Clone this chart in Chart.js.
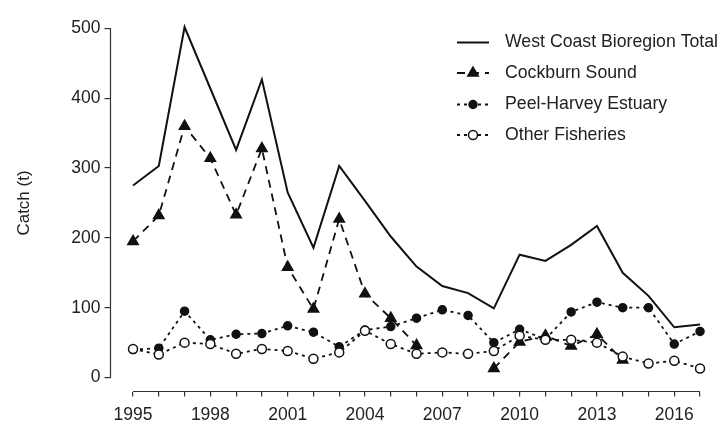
<!DOCTYPE html>
<html>
<head>
<meta charset="utf-8">
<script src="https://cdn.jsdelivr.net/npm/chart.js@4.4.1/dist/chart.umd.min.js"></script>
<style>
  html, body { margin: 0; padding: 0; background: #fff; }
  #wrap { width: 723px; height: 421px; }
</style>
</head>
<body>
<div id="wrap"><canvas id="chart"></canvas></div>
<script>
// catch data, tonnes
const years = [1995, 1996, 1997, 1998, 1999, 2000, 2001, 2002, 2003, 2004, 2005, 2006,
               2007, 2008, 2009, 2010, 2011, 2012, 2013, 2014, 2015, 2016, 2017];
const westCoastTotal = [275, 303, 502, 414, 326, 427, 265, 186, 303, 253, 202, 159,
                        131, 121, 99, 176, 167, 190, 217, 150, 117, 72, 76];
const cockburnSound = [195, 232, 360, 314, 233, 328, 158, 98, 227, 120, 85, 46,
                       null, null, 13, 51, 60, 45, 62, 25, null, null, null];
const peelHarvey = [40, 42, 95, 54, 62, 63, 74, 65, 44, 68, 73, 85,
                    97, 89, 50, 69, 55, 94, 108, 100, 100, 48, 66];
const otherFisheries = [41, 33, 50, 48, 34, 41, 38, 27, 36, 67, 48, 34,
                        36, 34, 38, 60, 54, 54, 50, 30, 20, 24, 13];
const xTickLabels = ['1995', '1998', '2001', '2004', '2007', '2010', '2013', '2016'];
const yTicks = [0, 100, 200, 300, 400, 500];

const ink = '#111';
const textColor = '#222';
const fontFamily = "'Liberation Sans', Arial, sans-serif";

const toPoints = (vals) => years.map((yr, i) => ({ x: yr, y: vals[i] }));

const seriesStyles = [
    { label: 'West Coast Bioregion Total', data: westCoastTotal, dash: [], pointStyle: false, radius: 0, fill: ink, order: 4 },
    { label: 'Cockburn Sound', data: cockburnSound, dash: [8, 6], pointStyle: 'triangle', radius: 6, fill: ink, order: 3 },
    { label: 'Peel-Harvey Estuary', data: peelHarvey, dash: [3, 4], pointStyle: 'circle', radius: 4, fill: ink, order: 2 },
    { label: 'Other Fisheries', data: otherFisheries, dash: [3, 4], pointStyle: 'circle', radius: 4.5, fill: '#fff', order: 1 }
];

const datasets = seriesStyles.map(s => ({
    label: s.label,
    data: toPoints(s.data),
    borderColor: ink,
    borderWidth: s.pointStyle ? 1.8 : 2,
    borderDash: s.dash,
    pointStyle: s.pointStyle || 'circle',
    pointRadius: s.radius,
    pointBackgroundColor: s.fill,
    pointBorderColor: ink,
    pointBorderWidth: 1.5,
    pointHoverRadius: s.radius,
    tension: 0,
    spanGaps: false,
    order: s.order
}));

// R style detached axis lines, only across the data range
const axisLines = {
    id: 'axisLines',
    afterDraw(chart) {
        const { ctx, chartArea, scales } = chart;
        ctx.save();
        ctx.strokeStyle = '#333';
        ctx.lineWidth = 1.2;
        ctx.beginPath();
        ctx.moveTo(scales.x.getPixelForValue(years[0]), chartArea.bottom);
        ctx.lineTo(scales.x.getPixelForValue(years[years.length - 1]), chartArea.bottom);
        ctx.moveTo(chartArea.left, scales.y.getPixelForValue(yTicks[0]));
        ctx.lineTo(chartArea.left, scales.y.getPixelForValue(yTicks[yTicks.length - 1]));
        ctx.stroke();
        ctx.restore();
    }
};

// legend with line + marker samples, top right inside the plot
const sampleLegend = {
    id: 'sampleLegend',
    afterDraw(chart) {
        const { ctx } = chart;
        const x0 = 457, x1 = 489, textX = 505;
        const rowY = [42.5, 73, 104.5, 135];
        ctx.save();
        seriesStyles.forEach((s, i) => {
            const y = rowY[i];
            ctx.strokeStyle = ink;
            ctx.lineWidth = s.pointStyle ? 1.8 : 2;
            ctx.setLineDash(s.dash);
            ctx.beginPath();
            ctx.moveTo(x0, y);
            ctx.lineTo(x1, y);
            ctx.stroke();
            ctx.setLineDash([]);
            if (s.pointStyle) {
                ctx.fillStyle = s.fill;
                ctx.lineWidth = 1.5;
                Chart.helpers.drawPoint(ctx, { pointStyle: s.pointStyle, radius: s.radius, rotation: 0, borderWidth: 1.5 }, (x0 + x1) / 2, y);
            }
            ctx.fillStyle = textColor;
            ctx.font = '17.7px ' + fontFamily;
            ctx.textAlign = 'left';
            ctx.textBaseline = 'middle';
            ctx.fillText(s.label, textX, y);
        });
        ctx.restore();
    }
};

new Chart(document.getElementById('chart'), {
    type: 'line',
    data: { datasets },
    options: {
        responsive: true,
        maintainAspectRatio: false,
        animation: false,
        layout: { padding: { top: 10, left: 0, right: 0, bottom: 0 } },
        plugins: {
            legend: { display: false },
            tooltip: { enabled: false }
        },
        scales: {
            x: {
                type: 'linear',
                min: 1994.126,
                max: 2017.6,
                afterBuildTicks: (scale) => { scale.ticks = years.map(v => ({ value: v })); },
                afterFit: (scale) => { scale.height = 29.5; },
                border: { display: false },
                grid: { display: true, drawOnChartArea: false, drawTicks: true, tickLength: 5, color: '#333', lineWidth: 1.2 },
                ticks: {
                    autoSkip: false,
                    maxRotation: 0,
                    padding: 8,
                    color: textColor,
                    font: { family: fontFamily, size: 17.5 },
                    callback: (value) => xTickLabels.includes(String(value)) ? String(value) : ''
                }
            },
            y: {
                min: -20,
                max: 520,
                afterBuildTicks: (scale) => { scale.ticks = yTicks.map(v => ({ value: v })); },
                afterFit: (scale) => { scale.width = 110.5; },
                border: { display: false },
                grid: { display: true, drawOnChartArea: false, drawTicks: true, tickLength: 6, color: '#333', lineWidth: 1.2 },
                ticks: {
                    padding: 4,
                    color: textColor,
                    font: { family: fontFamily, size: 17.5 },
                    callback: (value) => String(value)
                },
                title: {
                    display: true,
                    text: 'Catch (t)',
                    color: textColor,
                    font: { family: fontFamily, size: 17 },
                    padding: { top: 14, bottom: 0 }
                }
            }
        }
    },
    plugins: [axisLines, sampleLegend]
});
</script>
</body>
</html>
